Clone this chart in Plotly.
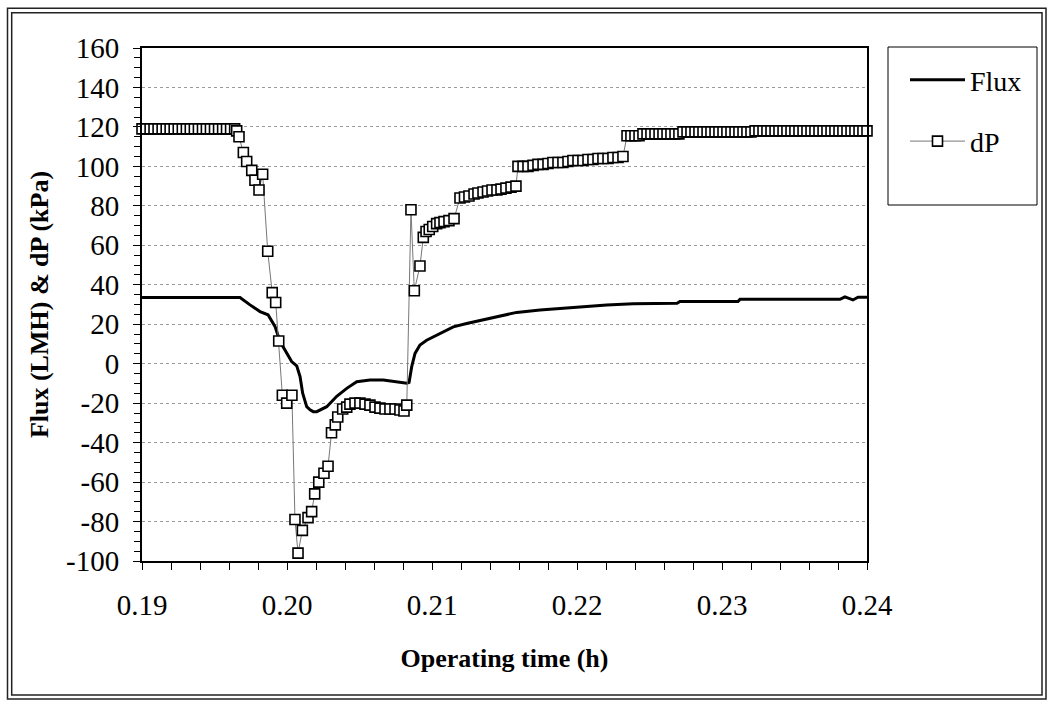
import plotly.graph_objects as go

# ---------------- data ----------------
dp_time_h = [
    0.19000, 0.19028, 0.19056, 0.19083, 0.19111, 0.19139, 0.19167, 0.19194, 0.19222, 0.19250,
    0.19278, 0.19306, 0.19333, 0.19361, 0.19389, 0.19417, 0.19444, 0.19472, 0.19500, 0.19528,
    0.19556, 0.19583, 0.19611, 0.19639,
    0.19653, 0.19669, 0.19699, 0.19722, 0.19757, 0.19779, 0.19807, 0.19832, 0.19867, 0.19898,
    0.19922, 0.19943, 0.19968, 0.19998, 0.20034, 0.20055, 0.20076, 0.20106, 0.20145, 0.20170,
    0.20191, 0.20219, 0.20255, 0.20283, 0.20307, 0.20333, 0.20350, 0.20384, 0.20412,
    0.20434, 0.20469, 0.20503, 0.20538, 0.20572, 0.20607, 0.20641, 0.20676, 0.20710, 0.20745,
    0.20779, 0.20807, 0.20826,
    0.20855, 0.20878, 0.20917, 0.20940, 0.20959, 0.20981, 0.21005, 0.21032, 0.21055, 0.21083,
    0.21117, 0.21152,
    0.21193, 0.21224, 0.21255, 0.21290, 0.21317, 0.21352, 0.21383, 0.21414, 0.21448, 0.21476,
    0.21510, 0.21545, 0.21579,
    0.21593, 0.21628, 0.21662, 0.21697, 0.21731, 0.21766, 0.21800, 0.21834, 0.21869, 0.21903,
    0.21938, 0.21972, 0.22007, 0.22041, 0.22076, 0.22110, 0.22145, 0.22179, 0.22214, 0.22248,
    0.22283, 0.22317,
    0.22345, 0.22372, 0.22400, 0.22428,
    0.22455, 0.22483, 0.22510, 0.22538, 0.22566, 0.22593, 0.22621, 0.22648, 0.22676, 0.22703,
    0.22731, 0.22759, 0.22786, 0.22814, 0.22841, 0.22869, 0.22897, 0.22924, 0.22952, 0.22979,
    0.23007, 0.23034, 0.23062, 0.23090, 0.23117, 0.23145, 0.23172, 0.23200,
    0.23228, 0.23255, 0.23283, 0.23310, 0.23338, 0.23366, 0.23393, 0.23421, 0.23448, 0.23476,
    0.23503, 0.23531, 0.23559, 0.23586, 0.23614, 0.23641, 0.23669, 0.23697, 0.23724, 0.23752,
    0.23779, 0.23807, 0.23834, 0.23862, 0.23890, 0.23917, 0.23945, 0.23972, 0.24000,
]
dp_kpa = [
    119, 119, 119, 119, 119, 119, 119, 119, 119, 119,
    119, 119, 119, 119, 119, 119, 119, 119, 119, 119,
    119, 119, 119, 119,
    118, 115, 107, 102.5, 98, 93, 88, 96, 57, 36,
    31, 11.5, -16, -20, -16, -79, -96, -84.5, -78, -75,
    -66, -60, -55.5, -52, -35, -31, -27, -23, -22,
    -20.5, -20, -20, -20.5, -21, -22, -22.5, -23, -23, -23,
    -23.5, -24, -21,
    78, 37, 49.5, 64, 67, 68, 69.5, 71, 71.5, 72,
    72.5, 73.5,
    84, 84.5, 85, 86, 86.5, 87, 87.5, 88, 88, 88.5,
    89, 89.5, 90,
    100, 100, 100, 100.5, 101, 101, 101.5, 102, 102, 102,
    102.5, 103, 103, 103, 103.5, 103.5, 104, 104, 104, 104.5,
    104.5, 105,
    115.5, 115.5, 115.5, 115.5,
    116.5, 116.5, 116.5, 116.5, 116.5, 116.5, 116.5, 116.5, 116.5, 116.5,
    117.5, 117.5, 117.5, 117.5, 117.5, 117.5, 117.5, 117.5, 117.5, 117.5,
    117.5, 117.5, 117.5, 117.5, 117.5, 117.5, 117.5, 117.5,
    118, 118, 118, 118, 118, 118, 118, 118, 118, 118,
    118, 118, 118, 118, 118, 118, 118, 118, 118, 118,
    118, 118, 118, 118, 118, 118, 118, 118, 118,
]

flux_time_h = [
    0.19000, 0.19400, 0.19676, 0.19745, 0.19814, 0.19869, 0.19917, 0.19952, 0.19986, 0.20032,
    0.20067, 0.20090, 0.20108, 0.20136, 0.20159, 0.20181, 0.20205, 0.20228, 0.20274, 0.20343,
    0.20412, 0.20481, 0.20572, 0.20664, 0.20757, 0.20826, 0.20842, 0.20860, 0.20883, 0.20917,
    0.20963, 0.21055, 0.21147, 0.21239, 0.21331, 0.21423, 0.21584, 0.21745, 0.21883, 0.22043,
    0.22205, 0.22388, 0.22572, 0.22690, 0.22710, 0.23110, 0.23124, 0.23538, 0.23814, 0.23848,
    0.23903, 0.23938, 0.24000,
]
flux_lmh = [
    33.5, 33.5, 33.5, 29.8, 26.4, 24.8, 18.9, 11.2, 7.0, 1.1,
    -1.1, -6.5, -15.0, -21.8, -23.4, -24.3, -24.3, -23.5, -21.8, -16.5,
    -12.5, -9.1, -8.3, -8.3, -9.1, -9.9, -9.5, -1.5, 5.2, 9.5,
    11.9, 15.5, 18.7, 20.4, 21.8, 23.5, 26.0, 27.2, 28.0, 28.9,
    29.8, 30.4, 30.6, 30.6, 31.5, 31.5, 32.6, 32.6, 32.6, 33.9,
    32.3, 33.7, 33.7,
]

y_tick_vals = [-100, -80, -60, -40, -20, 0, 20, 40, 60, 80, 100, 120, 140, 160]
y_tick_text = ["-100", "-80", "-60", "-40", "-20", "0", "20", "40", "60", "80", "100", "120", "140", "160"]
x_tick_vals = [0.19, 0.20, 0.21, 0.22, 0.23, 0.24]
x_tick_text = ["0.19", "0.20", "0.21", "0.22", "0.23", "0.24"]

# ---------------- layout geometry ----------------
W, H = 1052, 702
PL, PR, PT, PB = 142, 867, 48, 561   # plot-area pixel box


def px(xp):
    return (xp - PL) / (PR - PL)


def py(yp):
    return (PB - yp) / (PB - PT)


FONT = "Liberation Serif"

fig = go.Figure()
fig.add_trace(go.Scatter(
    x=flux_time_h, y=flux_lmh, mode="lines", name="Flux",
    line=dict(color="black", width=3), legendgroup="a",
))
fig.add_trace(go.Scatter(
    x=dp_time_h, y=dp_kpa, mode="lines+markers", name="dP",
    line=dict(color="#777777", width=1),
    marker=dict(symbol="square", size=10, color="white", line=dict(color="black", width=1.6)),
    cliponaxis=False, legendgroup="b",
))

shapes = [
    # outer double frame
    dict(type="rect", xref="paper", yref="paper", x0=px(7.5), x1=px(1046), y0=py(699), y1=py(8.3),
         line=dict(color="#222", width=1.5)),
    dict(type="rect", xref="paper", yref="paper", x0=px(11.7), x1=px(1042), y0=py(695), y1=py(12.7),
         line=dict(color="#222", width=1.5)),
    # legend box
    dict(type="rect", xref="paper", yref="paper", x0=px(888), x1=px(1037), y0=py(205), y1=py(47),
         line=dict(color="black", width=1)),
]

fig.update_layout(
    width=W, height=H,
    margin=dict(l=PL, r=W - PR, t=PT, b=H - PB),
    paper_bgcolor="white", plot_bgcolor="white",
    font=dict(family=FONT, size=28, color="black"),
    shapes=shapes,
    showlegend=True,
    legend=dict(
        x=px(905), y=py(55), xanchor="left", yanchor="top",
        bgcolor="rgba(0,0,0,0)", borderwidth=0,
        font=dict(family=FONT, size=28, color="black"),
        tracegroupgap=22, itemwidth=55,
    ),
    xaxis=dict(
        range=[0.19, 0.24], tickvals=x_tick_vals, ticktext=x_tick_text,
        ticks="outside", ticklen=7, tickwidth=1, tickcolor="black",
        minor=dict(dtick=0.002, tick0=0.19, ticks="outside", ticklen=7, tickcolor="black", showgrid=False),
        showline=True, linecolor="black", linewidth=2, mirror=True,
        showgrid=False, zeroline=False,
        ticklabelstandoff=10,
        tickfont=dict(family=FONT, size=29),
        title=dict(text="<b>Operating time (h)</b>", font=dict(family=FONT, size=26), standoff=29),
    ),
    yaxis=dict(
        range=[-100, 160], tickvals=y_tick_vals, ticktext=y_tick_text,
        ticks="outside", ticklen=7, tickwidth=1, tickcolor="black",
        minor=dict(dtick=5, tick0=0, ticks="outside", ticklen=6, tickcolor="black", showgrid=False),
        showline=True, linecolor="black", linewidth=2, mirror=True,
        showgrid=True, gridcolor="#9a9a9a", griddash="dot", gridwidth=1,
        zeroline=False,
        ticklabelstandoff=8,
        tickfont=dict(family=FONT, size=29),
        title=dict(text="<b>Flux (LMH) & dP (kPa)</b>", font=dict(family=FONT, size=26), standoff=10),
    ),
)

fig.write_html("out.html")
